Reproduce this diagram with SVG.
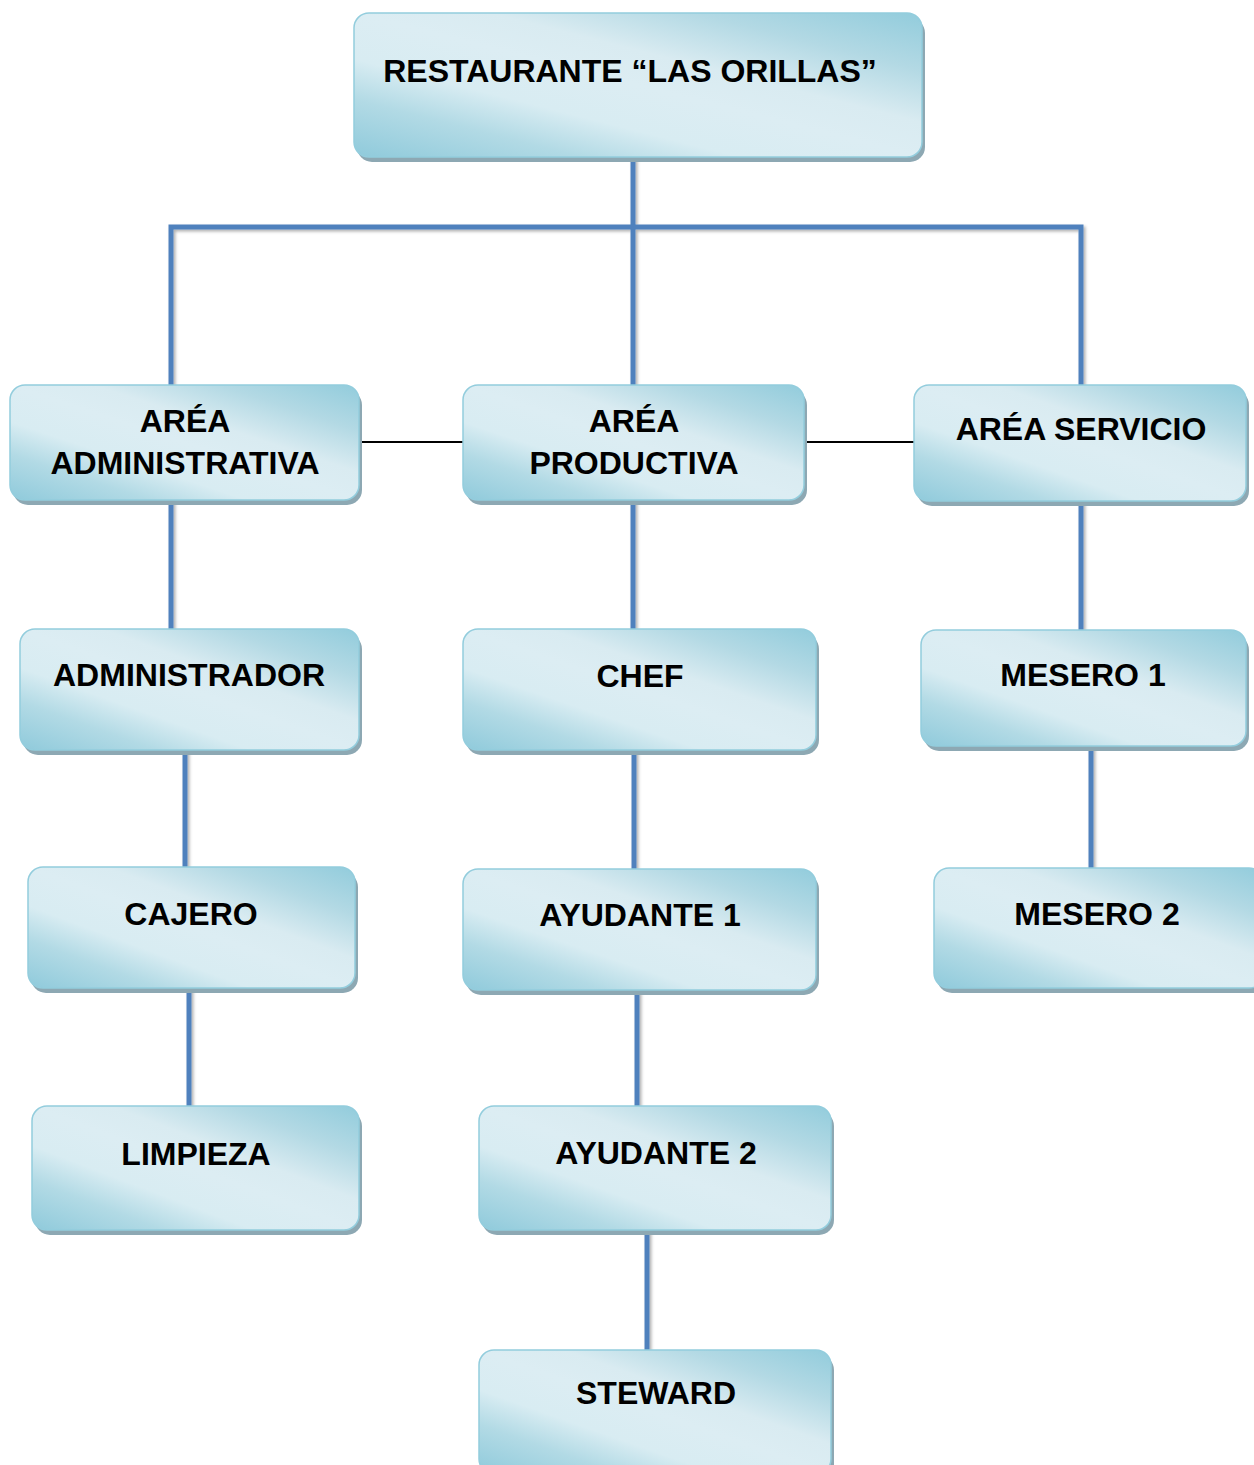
<svg xmlns="http://www.w3.org/2000/svg" width="1254" height="1465" viewBox="0 0 1254 1465">
<style>
.sh{fill:#8da8b3}
.bx{fill:url(#g);stroke:#93cddd;stroke-width:1.5}
.t{font-family:"Liberation Sans",Arial,sans-serif;font-weight:bold;font-size:32px;fill:#000;text-anchor:middle}
.c{stroke:#4f81bd;stroke-width:5;fill:none}
.k{stroke:#000;stroke-width:2;fill:none}
</style>
<defs>
<linearGradient id="g" x1="0" y1="1" x2="1" y2="0">
<stop offset="0" stop-color="#8fcadb"/>
<stop offset="0.2" stop-color="#b2dae5"/>
<stop offset="0.34" stop-color="#d8ecf2"/>
<stop offset="0.5" stop-color="#dcedf3"/>
<stop offset="0.62" stop-color="#d9ebf1"/>
<stop offset="0.8" stop-color="#b3d9e4"/>
<stop offset="1" stop-color="#92ccdc"/>
</linearGradient>
<filter id="ds" x="-20%" y="-20%" width="140%" height="140%">
<feDropShadow dx="2" dy="2" stdDeviation="1.5" flood-color="#000" flood-opacity="0.3"/>
</filter>
</defs>

<g id="connectors">
<g filter="url(#ds)">
<path class="c" d="M633 157V385"/>
<path class="c" d="M171 385V227H1081V385"/>
<path class="c" d="M171 500V629"/>
<path class="c" d="M633 500V629"/>
<path class="c" d="M1081 501V630"/>
<path class="c" d="M185 750V868"/>
<path class="c" d="M634 750V869"/>
<path class="c" d="M1091 746V868"/>
<path class="c" d="M189 988V1106"/>
<path class="c" d="M637 991V1106"/>
<path class="c" d="M647 1230V1350"/>
</g>
<path class="k" d="M360 442H463"/>
<path class="k" d="M804 442H914"/>
</g>

<g id="restaurante">
<rect class="sh" x="357" y="18" width="568" height="144" rx="15"/>
<rect class="bx" x="354" y="13" width="568" height="144" rx="15"/>
<text class="t" x="630" y="82">RESTAURANTE “LAS ORILLAS”</text>
</g>

<g id="area-administrativa">
<rect class="sh" x="13" y="390" width="349" height="115" rx="15"/>
<rect class="bx" x="10" y="385" width="349" height="115" rx="15"/>
<text class="t" x="185" y="432">ARÉA</text>
<text class="t" x="185" y="474">ADMINISTRATIVA</text>
</g>

<g id="area-productiva">
<rect class="sh" x="466" y="390" width="341" height="115" rx="15"/>
<rect class="bx" x="463" y="385" width="341" height="115" rx="15"/>
<text class="t" x="634" y="432">ARÉA</text>
<text class="t" x="634" y="474">PRODUCTIVA</text>
</g>

<g id="area-servicio">
<rect class="sh" x="917" y="390" width="332" height="116" rx="15"/>
<rect class="bx" x="914" y="385" width="332" height="116" rx="15"/>
<text class="t" x="1081" y="440">ARÉA SERVICIO</text>
</g>

<g id="administrador">
<rect class="sh" x="23" y="634" width="339" height="121" rx="15"/>
<rect class="bx" x="20" y="629" width="339" height="121" rx="15"/>
<text class="t" x="189" y="686">ADMINISTRADOR</text>
</g>

<g id="chef">
<rect class="sh" x="466" y="634" width="353" height="121" rx="15"/>
<rect class="bx" x="463" y="629" width="353" height="121" rx="15"/>
<text class="t" x="640" y="687">CHEF</text>
</g>

<g id="mesero-1">
<rect class="sh" x="924" y="635" width="325" height="116" rx="15"/>
<rect class="bx" x="921" y="630" width="325" height="116" rx="15"/>
<text class="t" x="1083" y="686">MESERO 1</text>
</g>

<g id="cajero">
<rect class="sh" x="31" y="872" width="327" height="121" rx="15"/>
<rect class="bx" x="28" y="867" width="327" height="121" rx="15"/>
<text class="t" x="191" y="925">CAJERO</text>
</g>

<g id="ayudante-1">
<rect class="sh" x="466" y="874" width="353" height="121" rx="15"/>
<rect class="bx" x="463" y="869" width="353" height="121" rx="15"/>
<text class="t" x="640" y="926">AYUDANTE 1</text>
</g>

<g id="mesero-2">
<rect class="sh" x="937" y="873" width="330" height="120" rx="15"/>
<rect class="bx" x="934" y="868" width="330" height="120" rx="15"/>
<text class="t" x="1097" y="925">MESERO 2</text>
</g>

<g id="limpieza">
<rect class="sh" x="35" y="1111" width="327" height="124" rx="15"/>
<rect class="bx" x="32" y="1106" width="327" height="124" rx="15"/>
<text class="t" x="196" y="1165">LIMPIEZA</text>
</g>

<g id="ayudante-2">
<rect class="sh" x="482" y="1111" width="352" height="124" rx="15"/>
<rect class="bx" x="479" y="1106" width="352" height="124" rx="15"/>
<text class="t" x="656" y="1164">AYUDANTE 2</text>
</g>

<g id="steward">
<rect class="sh" x="482" y="1355" width="352" height="124" rx="15"/>
<rect class="bx" x="479" y="1350" width="352" height="124" rx="15"/>
<text class="t" x="656" y="1404">STEWARD</text>
</g>
</svg>
